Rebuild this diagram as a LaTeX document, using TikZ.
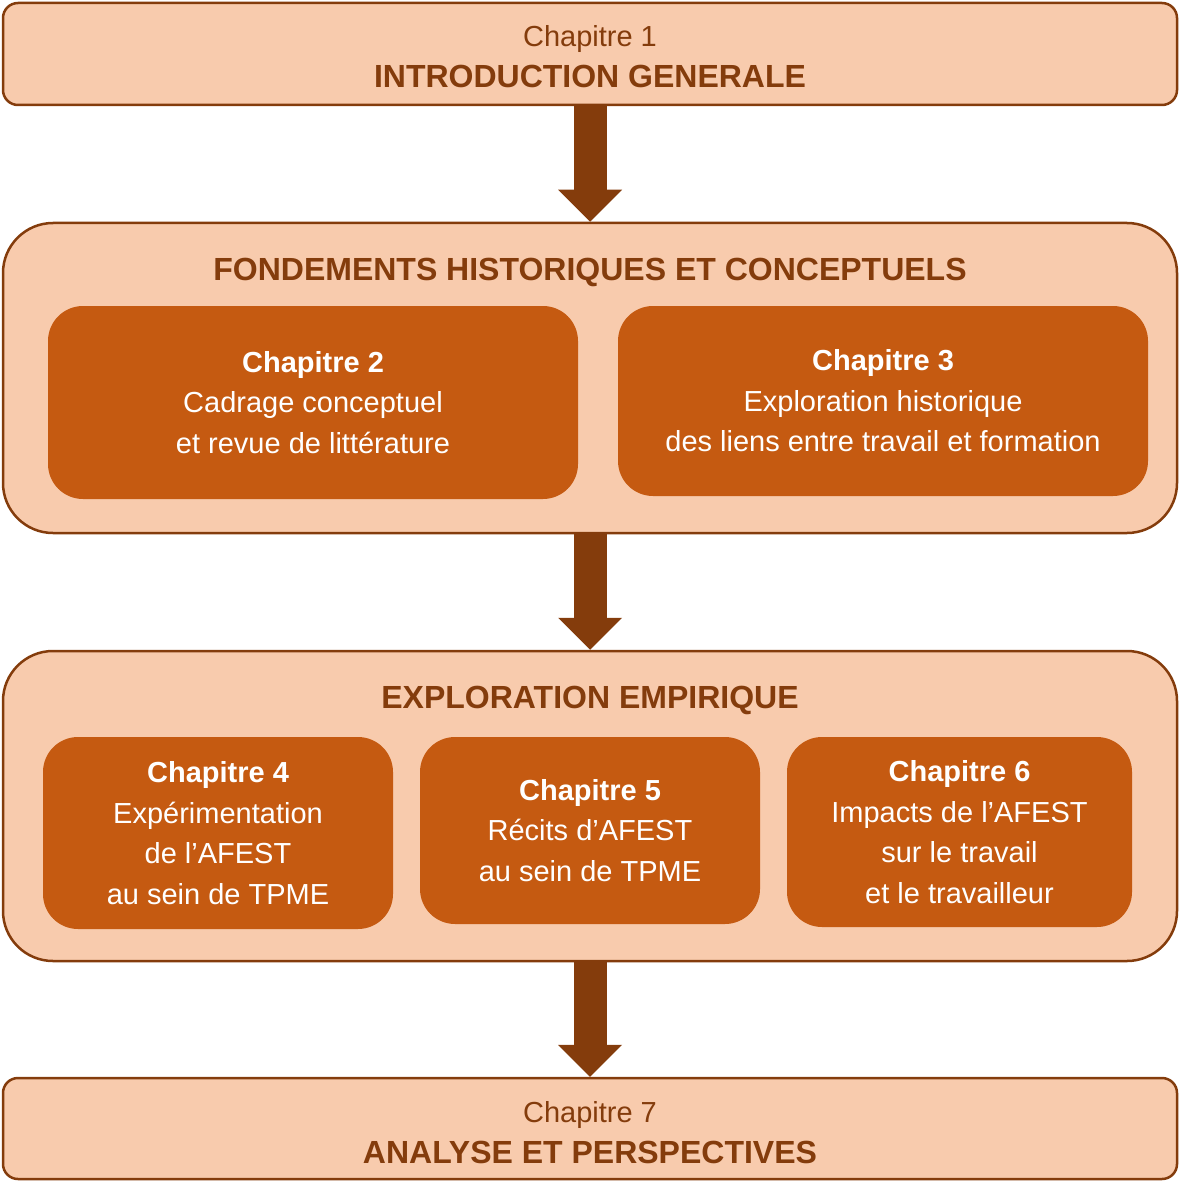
\documentclass[tikz,border=0pt]{standalone}
\usepackage{fontspec}
\setmainfont{Liberation Sans}
\usetikzlibrary{arrows.meta}
\definecolor{peau}{HTML}{F8CBAD}
\definecolor{brun}{HTML}{843C0C}
\definecolor{rouille}{HTML}{C55A11}

\begin{document}
\begin{tikzpicture}[x=1pt,y=-1pt]
\tikzset{
    bloc/.style 2 args={draw=brun, line width=2.5pt, fill=peau, rounded corners=#1, minimum width=1174pt, minimum height=#2, inner sep=0pt},
    chap/.style 2 args={fill=rouille, text=white, rounded corners=35pt, minimum width=#1, minimum height=#2, align=center, inner sep=0pt, font=\fontsize{29}{40.5}\selectfont},
    titre/.style={text=brun, anchor=base, font=\fontsize{32}{38}\selectfont\bfseries},
    numero/.style={text=brun, anchor=base, font=\fontsize{29}{35}\selectfont},
    fleche/.style={draw=brun, line width=33pt, -{Triangle[width=64pt,length=32pt,line width=0pt]}}
}
\useasboundingbox (0,0) rectangle (1181,1182);

% les quatre blocs
\node[bloc={15pt}{102pt}] (b1) at (590,54) {};
\node[bloc={50pt}{310pt}] (b2) at (590,378) {};
\node[bloc={50pt}{310pt}] (b3) at (590,806) {};
\node[bloc={15pt}{101pt}] (b4) at (590,1128.5) {};

\node[numero] (n1) at (590,47) {Chapitre 1};
\node[titre] (t1) at (590,88) {INTRODUCTION GENERALE};
\node[titre] (t2) at (590,280) {FONDEMENTS HISTORIQUES ET CONCEPTUELS};
\node[titre] (t3) at (590,708) {EXPLORATION EMPIRIQUE};
\node[numero] (n7) at (590,1122) {Chapitre 7};
\node[titre] (t7) at (590,1163) {ANALYSE ET PERSPECTIVES};

% chapitres
\node[chap={530pt}{193pt}] (c2) at (313,402.5) {\textbf{Chapitre 2}\\Cadrage conceptuel\\et revue de littérature};
\node[chap={530pt}{190pt}] (c3) at (883,401) {\textbf{Chapitre 3}\\Exploration historique\\des liens entre travail et formation};
\node[chap={350pt}{192pt}] (c4) at (218,833) {\textbf{Chapitre 4}\\Expérimentation\\de l’AFEST\\au sein de TPME};
\node[chap={340pt}{187pt}] (c5) at (590,830.5) {\textbf{Chapitre 5}\\Récits d’AFEST\\au sein de TPME};
\node[chap={345pt}{190pt}] (c6) at (959.5,832) {\textbf{Chapitre 6}\\Impacts de l’AFEST\\sur le travail\\et le travailleur};

\foreach \a/\b in {b1/b2,b2/b3,b3/b4}
  \draw[fleche] (\a) -- (\b);
\end{tikzpicture}
\end{document}
